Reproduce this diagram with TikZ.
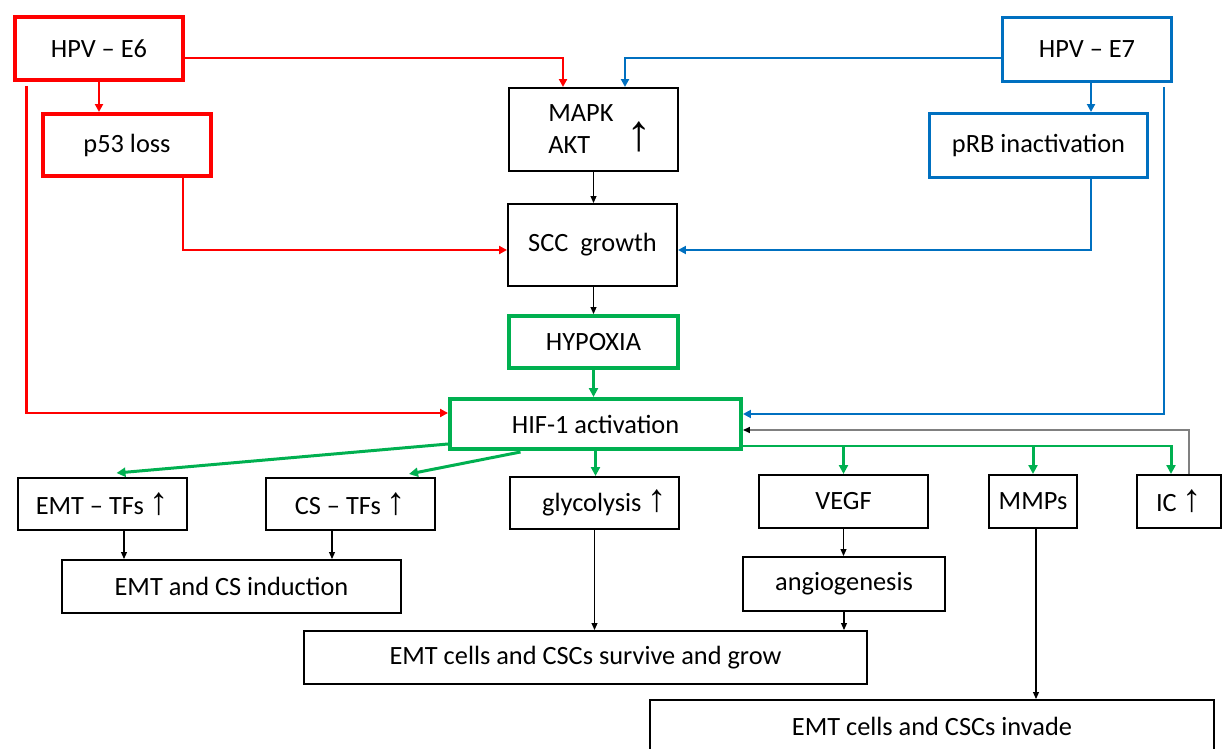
\documentclass[tikz,border=0pt]{standalone}
\usepackage{fontspec}
\setmainfont{Carlito}
\newfontfamily\arrfont{Liberation Sans}
\usetikzlibrary{arrows.meta,calc}

\definecolor{hpvred}{RGB}{255,0,0}
\definecolor{hpvblue}{RGB}{0,112,192}
\definecolor{hifgreen}{RGB}{0,176,80}
\definecolor{icgrey}{RGB}{128,128,128}

\newcommand{\uarr}{{\arrfont\fontsize{22}{18}\selectfont ↑}}

\tikzset{
  box/.style={draw, line width=0.04cm, inner sep=0pt, font=\fontsize{15}{18}\selectfont},
  redbox/.style={box, draw=hpvred, line width=0.08cm},
  bluebox/.style={box, draw=hpvblue, line width=0.06cm},
  greenbox/.style={box, draw=hifgreen, line width=0.08cm},
  lbl/.style={inner sep=0pt, font=\fontsize{15}{18}\selectfont},
  redline/.style={draw=hpvred, line width=0.045cm, -{Triangle[length=0.16cm,width=0.16cm]}},
  blueline/.style={draw=hpvblue, line width=0.045cm, -{Triangle[length=0.16cm,width=0.16cm]}},
  greenline/.style={draw=hifgreen, line width=0.06cm, -{Triangle[length=0.18cm,width=0.18cm]}},
  thinline/.style={draw=black, line width=0.022cm, -{Triangle[length=0.14cm,width=0.12cm]}},
  greyline/.style={draw=icgrey, line width=0.03cm, -{Triangle[length=0.14cm,width=0.12cm,color=black]}}
}

\begin{document}
\begin{tikzpicture}[x=0.02cm, y=-0.02cm]
    % Fix the frame of the picture
    \clip (0,0) rectangle (1223,749);

    % Draw the HPV oncoprotein boxes
    \node[redbox, minimum width=3.38cm, minimum height=1.26cm] (e6) at (99,48.5) {HPV – E6};
    \node[redbox, minimum width=3.36cm, minimum height=1.24cm] (p53) at (127,145) {p53 loss};
    \node[bluebox, minimum width=3.38cm, minimum height=1.28cm] (e7) at (1087,49.5) {HPV – E7};
    \node[bluebox, minimum width=4.36cm, minimum height=1.28cm] (prb) at (1038.5,145.5) {pRB inactivation};

    % Draw the central column
    \node[box, minimum width=3.38cm, minimum height=1.66cm] (mapk) at (593.5,129.5) {};
    \node[lbl, anchor=west] (mapktxt) at (548,113) {MAPK};
    \node[lbl, anchor=west] (akttxt) at (548,145) {AKT};
    \node[inner sep=0pt, font=\arrfont\fontsize{29}{29}\selectfont] (bigup) at (639,137) {↑};
    \node[box, minimum width=3.38cm, minimum height=1.64cm] (scc) at (592.5,245) {SCC\ \ growth};
    \node[greenbox, minimum width=3.38cm, minimum height=1.04cm] (hyp) at (593.5,342) {HYPOXIA};
    \node[greenbox, minimum width=5.82cm, minimum height=1.00cm] (hif) at (595.5,424) {HIF-1 activation};

    % Draw the HIF-1 targets
    \node[box, minimum width=3.38cm, minimum height=1.04cm] (emt) at (102.5,504) {EMT – TFs \uarr};
    \node[box, minimum width=3.38cm, minimum height=1.04cm] (cs) at (350.5,504) {CS – TFs \uarr};
    \node[box, minimum width=3.38cm, minimum height=1.04cm] (glyc) at (594.5,503) {\hspace*{0.4cm}glycolysis \uarr};
    \node[box, minimum width=3.38cm, minimum height=1.06cm] (vegf) at (843.5,501.5) {VEGF};
    \node[box, minimum width=1.76cm, minimum height=1.06cm] (mmp) at (1033,501.5) {MMPs};
    \node[box, minimum width=1.68cm, minimum height=1.06cm] (ic) at (1179,501.5) {IC \uarr};

    % Draw the outcome boxes
    \node[box, minimum width=6.78cm, minimum height=1.06cm] (ind) at (231.5,586.5) {EMT and CS induction};
    \node[box, minimum width=4.04cm, minimum height=1.08cm] (angio) at (844,584) {angiogenesis};
    \node[box, minimum width=11.26cm, minimum height=1.06cm] (surv) at (585.5,657.5) {EMT cells and CSCs survive and grow};
    \node[box, minimum width=11.28cm, minimum height=1.06cm] (inv) at (932,726.5) {EMT cells and CSCs invade};

    % Exit points of the connectors
    \coordinate (e7out) at ($(e7.south)+(4,0)$);
    \coordinate (emtout) at ($(emt.south)+(21.5,0)$);
    \coordinate (csout) at ($(cs.south)+(-18.5,0)$);
    \coordinate (mmpout) at ($(mmp.south)+(3,0)$);

    % Red arrows from E6
    \draw[redline] ($(e6.east)+(0,9.5)$) -| ($(mapk.north)+(-30.5,0)$);
    \draw[redline] (e6.south) -- (e6.south |- p53.north);
    \draw[redline] ($(p53.south)+(56,0)$) |- ($(scc.west)+(0,5)$);
    \draw[redline] ($(e6.south west)+(14,4)$) |- ($(hif.west)+(0,-11)$);

    % Blue arrows from E7
    \draw[blueline] ($(e7.west)+(0,8.5)$) -| ($(mapk.north)+(31.5,0)$);
    \draw[blueline] (e7out) -- (e7out |- prb.north);
    \draw[blueline] ($(prb.south)+(52.5,0)$) |- ($(scc.east)+(0,5)$);
    \draw[blueline] ($(e7.south east)+(-9,4)$) |- ($(hif.east)+(0,-10)$);

    % Central chain
    \draw[thinline] (mapk.south) -- (mapk.south |- scc.north);
    \draw[thinline] (mapk.south |- scc.south) -- (mapk.south |- hyp.north);
    \draw[greenline] (hyp.south) -- (hyp.south |- hif.north);

    % Green arrows from HIF-1
    \draw[greenline] ($(hif.west)+(0,20)$) -- ($(emt.north)+(14,-4)$);
    \draw[greenline] ($(hif.south)+(-75,1)$) -- ($(cs.north)+(58.5,-3)$);
    \draw[greenline] (hif.south) -- (hif.south |- glyc.north);
    \draw[greenline] ($(hif.east)+(0,22)$) -| (vegf.north);
    \draw[greenline] ($(hif.east)+(0,22)$) -| (mmp.north);
    \draw[greenline] ($(hif.east)+(0,22)$) -| ($(ic.north)+(-8,0)$);

    % Feedback from IC
    \draw[greyline] ($(ic.north)+(10,0)$) |- ($(hif.east)+(0,6)$);

    % Thin black arrows to the outcomes
    \draw[thinline] (emtout) -- (emtout |- ind.north);
    \draw[thinline] (csout) -- (csout |- ind.north);
    \draw[thinline] (glyc.south) -- (glyc.south |- surv.north);
    \draw[thinline] (vegf.south) -- (vegf.south |- angio.north);
    \draw[thinline] (angio.south) -- (angio.south |- surv.north);
    \draw[thinline] (mmpout) -- (mmpout |- inv.north);
\end{tikzpicture}
\end{document}
